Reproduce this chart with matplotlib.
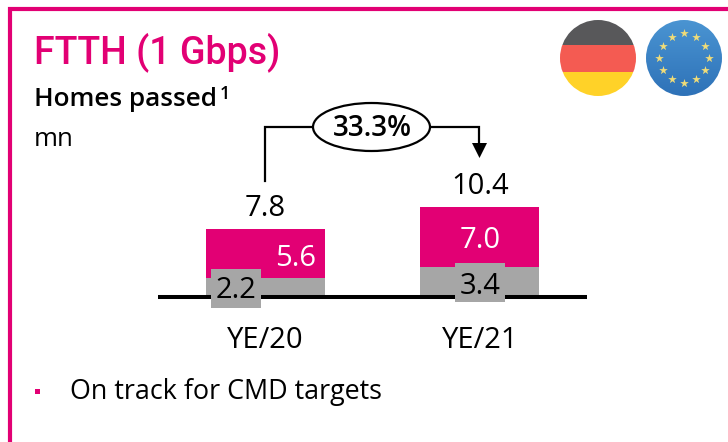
import numpy as np
import matplotlib
matplotlib.use("Agg")
import matplotlib.pyplot as plt
from matplotlib.patches import Circle, Ellipse, Rectangle

categories = ["YE/20", "YE/21"]
grey_values = [2.2, 3.4]
pink_values = [5.6, 7.0]
totals = [7.8, 10.4]
growth = "33.3%"

W, H = 728, 442
PINK = "#e20074"
GREY = "#a6a6a6"
plt.rcParams["font.family"] = ["Open Sans", "DejaVu Sans"]

fig = plt.figure(figsize=(W / 100, H / 100), dpi=100)

# bars, 8.68 px per mn
ax = fig.add_axes([158 / W, 1 - 297 / H, 429 / W, 190 / H])
x = np.arange(len(categories))
ax.bar(x, grey_values, width=0.555, color=GREY)
ax.bar(x, pink_values, width=0.555, bottom=grey_values, color=PINK)
ax.set_xlim(-0.5, 1.5)
ax.set_ylim(0, 190 / 8.68)
ax.axis("off")

# everything else in pixel coordinates
ov = fig.add_axes([0, 0, 1, 1], facecolor="none")
ov.set_xlim(0, W)
ov.set_ylim(H, 0)
ov.axis("off")

# frame
ov.plot([10, 10, W + 5], [H + 5, 9, 9], color=PINK, lw=3, solid_joinstyle="miter")

# axis line
ov.plot([158, 587], [297, 297], color="black", lw=2.9, solid_capstyle="butt", zorder=2)

# texts
ov.text(34, 52, "FTTH (1 Gbps)", color=PINK, fontsize=27, family="Roboto", fontweight="medium", va="center", ha="left")
ov.text(34, 100, "Homes passed", color="black", fontsize=18.8, fontweight="semibold", va="center", ha="left")
ov.text(220, 94, "1", color="black", fontsize=13, fontweight="semibold", va="center", ha="left")
ov.text(34, 140, "mn", color="black", fontsize=18.5, va="center", ha="left")

# value labels
ov.text(265.5, 208, f"{totals[0]}", fontsize=21, va="center", ha="center")
ov.text(480, 186, f"{totals[1]}", fontsize=21, va="center", ha="center")
ov.text(296, 258, f"{pink_values[0]}", color="white", fontsize=21, va="center", ha="center", zorder=5)
ov.text(480, 240, f"{pink_values[1]}", color="white", fontsize=21, va="center", ha="center", zorder=5)
ov.add_patch(Rectangle((211, 269), 50, 39, color=GREY, lw=0, zorder=4))
ov.add_patch(Rectangle((455, 263), 50, 39, color=GREY, lw=0, zorder=4))
ov.text(236, 291, f"{grey_values[0]}", fontsize=21, va="center", ha="center", zorder=5)
ov.text(480, 286, f"{grey_values[1]}", fontsize=21, va="center", ha="center", zorder=5)

# category labels
ov.text(265.5, 340, categories[0], fontsize=21, va="center", ha="center")
ov.text(480, 340, categories[1], fontsize=21, va="center", ha="center")

# growth callout
ov.plot([265, 265, 479, 479], [181, 127, 127, 146], color="black", lw=1.6, solid_joinstyle="miter")
ov.fill([472, 487, 479.5], [143, 143, 158], color="black", lw=0)
ov.add_patch(Ellipse((371.5, 127), 117, 48, fc="white", ec="black", lw=1.6, zorder=3))
ov.text(372, 128, growth, fontsize=20, fontweight="semibold", va="center", ha="center", zorder=4)

# bullet
ov.add_patch(Rectangle((35, 389), 5, 5, color=PINK, lw=0))
ov.text(70, 392, "On track for CMD targets", fontsize=19.4, va="center", ha="left")

# German flag
clip = Circle((598, 58), 38, transform=ov.transData)
for top, bot, col in [(20, 45, "#58585a"), (45, 71.5, "#f45b52"), (71.5, 96, "#ffd228")]:
    r = Rectangle((560, top), 76, bot - top, color=col, lw=0)
    ov.add_patch(r)
    r.set_clip_path(clip)

# EU flag
grad = np.linspace(0, 1, 76).reshape(-1, 1)
cmap = matplotlib.colors.LinearSegmentedColormap.from_list("eu", ["#4a94d2", "#2e72b8"])
im = ov.imshow(grad, extent=[646, 722, 96, 20], cmap=cmap, aspect="auto", zorder=1)
im.set_clip_path(Circle((684, 58), 38, transform=ov.transData))
ang = np.arange(12) * np.pi / 6
ov.scatter(684 + 24.7 * np.cos(ang), 58 + 24.7 * np.sin(ang), marker="*", s=42, color="#f0dc78", lw=0, zorder=2)
ov.set_xlim(0, W)
ov.set_ylim(H, 0)

fig.savefig("out.png", dpi=100)
